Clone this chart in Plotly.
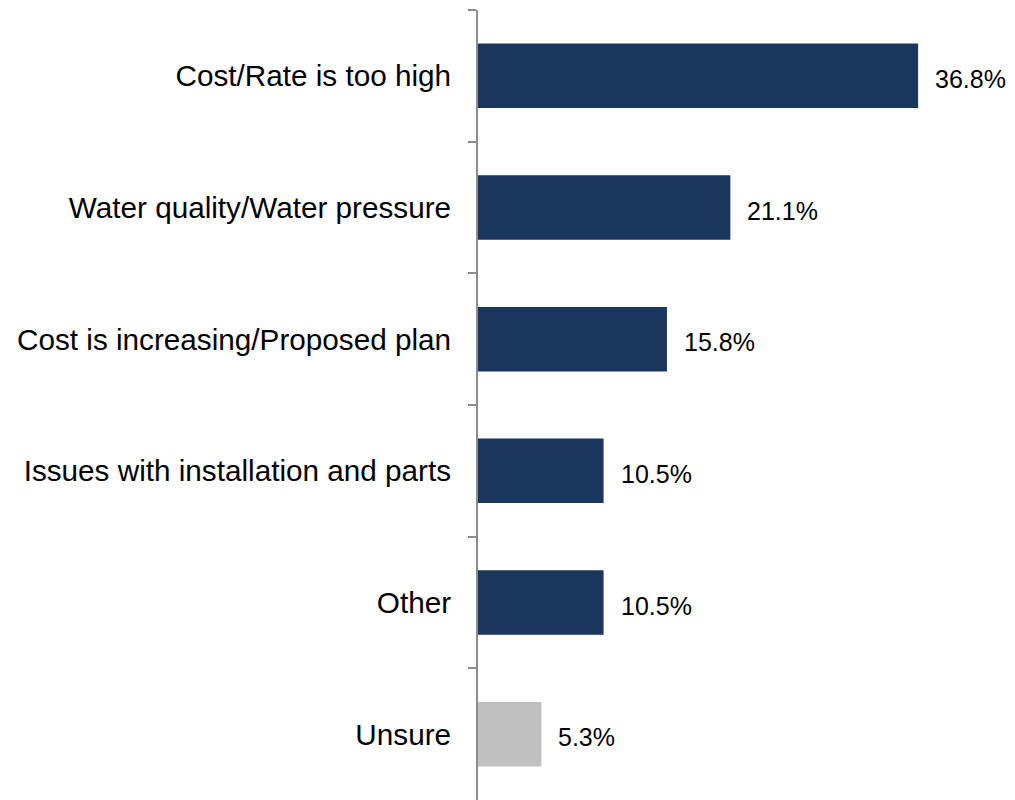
import plotly.graph_objects as go

categories = ["Cost/Rate is too high", "Water quality/Water pressure",
              "Cost is increasing/Proposed plan", "Issues with installation and parts",
              "Other", "Unsure"]
values = [36.8, 21.1, 15.8, 10.5, 10.5, 5.3]
value_labels = ["36.8%", "21.1%", "15.8%", "10.5%", "10.5%", "5.3%"]
bar_colors = ["#1B365D"] * 5 + ["#C0C0C0"]

fig = go.Figure()
fig.add_trace(go.Bar(
    y=categories, x=values, orientation="h",
    marker=dict(color=bar_colors, line=dict(width=0)),
    width=0.49, hoverinfo="skip",
))
for c, v, t in zip(categories, values, value_labels):
    fig.add_annotation(x=v, y=c, text=t, showarrow=False, xanchor="left",
                       xshift=15, yshift=-3,
                       font=dict(family="Liberation Sans, Arial", size=25, color="#000000"))

fig.update_layout(
    width=1007, height=792,
    margin=dict(l=470, r=0, t=2, b=0, pad=0),
    plot_bgcolor="white", paper_bgcolor="white",
    showlegend=False,
    font=dict(family="Liberation Sans, Arial", size=29.7, color="#000000"),
    xaxis=dict(range=[0, 44.9], showgrid=False, zeroline=False, showticklabels=False,
               showline=False, ticks="", automargin=False),
    yaxis=dict(type="category", categoryorder="array", categoryarray=categories,
               autorange="reversed", tickson="boundaries", ticks="outside", ticklen=8,
               tickcolor="#8C8C8C", tickwidth=2, showline=True, linecolor="#8C8C8C",
               linewidth=2, showgrid=False, ticklabelstandoff=19, automargin=False,
               tickfont=dict(size=29.7)),
)
fig.write_html("out.html")
